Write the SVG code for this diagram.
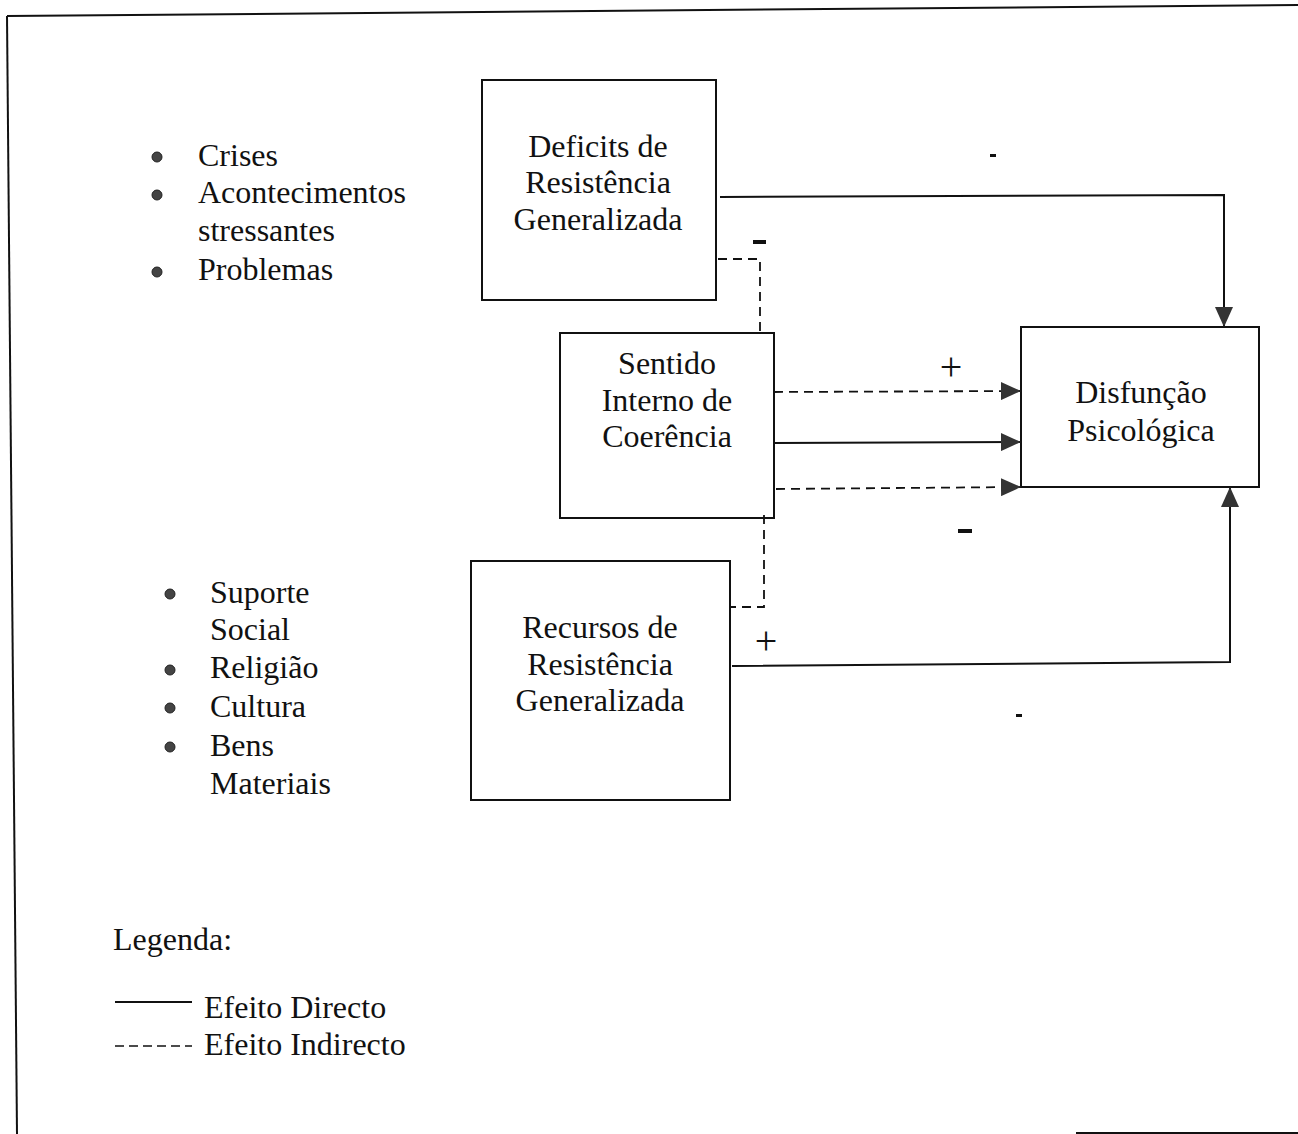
<svg xmlns="http://www.w3.org/2000/svg" width="1298" height="1134" viewBox="0 0 1298 1134">
<style>
text{font-family:"Liberation Serif","Times New Roman",serif;font-size:32px;fill:#111}
.c{text-anchor:middle}
.pl{font-size:40px}
.box{fill:none;stroke:#111;stroke-width:2}
.ln{fill:none;stroke:#111;stroke-width:2}
.ds{fill:none;stroke:#111;stroke-width:1.8;stroke-dasharray:9,6}
.bul{fill:#444;stroke:#222;stroke-width:1}
</style>
<defs>
<marker id="ah" markerWidth="20" markerHeight="18" refX="20" refY="9" orient="auto" markerUnits="userSpaceOnUse">
<path d="M0,0 L20,9 L0,18 Z" fill="#333"/>
</marker>
</defs>
<rect width="1298" height="1134" fill="#fff"/>
<g id="frame">
<line x1="7" y1="16" x2="1298" y2="5" class="ln"/>
<line x1="7" y1="16" x2="17" y2="1134" class="ln"/>
<line x1="1076" y1="1133" x2="1298" y2="1133" class="ln"/>
</g>
<g id="n-deficits">
<rect x="482" y="80" width="234" height="220" class="box"/>
<text x="598" y="157" class="c">Deficits de</text>
<text x="598" y="193" class="c">Resistência</text>
<text x="598" y="230" class="c">Generalizada</text>
</g>
<g id="n-sentido">
<rect x="560" y="333" width="214" height="185" class="box"/>
<text x="667" y="374" class="c">Sentido</text>
<text x="667" y="411" class="c">Interno de</text>
<text x="667" y="447" class="c">Coerência</text>
</g>
<g id="n-disfuncao">
<rect x="1021" y="327" width="238" height="160" class="box"/>
<text x="1141" y="403" class="c">Disfunção</text>
<text x="1141" y="441" class="c">Psicológica</text>
</g>
<g id="n-recursos">
<rect x="471" y="561" width="259" height="239" class="box"/>
<text x="600" y="638" class="c">Recursos de</text>
<text x="600" y="675" class="c">Resistência</text>
<text x="600" y="711" class="c">Generalizada</text>
</g>
<g id="n-stressors">
<circle cx="157" cy="157" r="5" class="bul"/>
<circle cx="157" cy="195" r="5" class="bul"/>
<circle cx="157" cy="272" r="5" class="bul"/>
<text x="198" y="166">Crises</text>
<text x="198" y="203">Acontecimentos</text>
<text x="198" y="241">stressantes</text>
<text x="198" y="280">Problemas</text>
</g>
<g id="n-resources">
<circle cx="170" cy="594" r="5" class="bul"/>
<circle cx="170" cy="670" r="5" class="bul"/>
<circle cx="170" cy="708" r="5" class="bul"/>
<circle cx="170" cy="747" r="5" class="bul"/>
<text x="210" y="603">Suporte</text>
<text x="210" y="640">Social</text>
<text x="210" y="678">Religião</text>
<text x="210" y="717">Cultura</text>
<text x="210" y="756">Bens</text>
<text x="210" y="794">Materiais</text>
</g>
<g id="connectors">
<polyline points="720,197 1224,195 1224,327" class="ln" marker-end="url(#ah)"/>
<polyline points="718,259 760,259 760,333" class="ds"/>
<line x1="774" y1="392" x2="1021" y2="391" class="ds" marker-end="url(#ah)"/>
<line x1="774" y1="443" x2="1021" y2="442" class="ln" marker-end="url(#ah)"/>
<line x1="776" y1="489" x2="1021" y2="487" class="ds" marker-end="url(#ah)"/>
<polyline points="764,515 764,607 730,607" class="ds"/>
<polyline points="732,666 1230,662 1230,487" class="ln" marker-end="url(#ah)"/>
</g>
<g id="labels">
<rect x="990" y="154" width="6" height="3" fill="#111"/>
<rect x="753" y="240" width="13" height="4" fill="#111"/>
<text x="951" y="380" class="c pl">+</text>
<rect x="958" y="529" width="14" height="4" fill="#111"/>
<text x="766" y="654" class="c pl">+</text>
<rect x="1016" y="714" width="6" height="3" fill="#111"/>
</g>
<g id="legend">
<text x="113" y="950">Legenda:</text>
<line x1="115" y1="1002" x2="192" y2="1002" stroke="#111" stroke-width="1.8"/>
<text x="204" y="1018">Efeito Directo</text>
<line x1="115" y1="1046" x2="192" y2="1046" stroke="#111" stroke-width="1.5" stroke-dasharray="9,5"/>
<text x="204" y="1055">Efeito Indirecto</text>
</g>
</svg>
